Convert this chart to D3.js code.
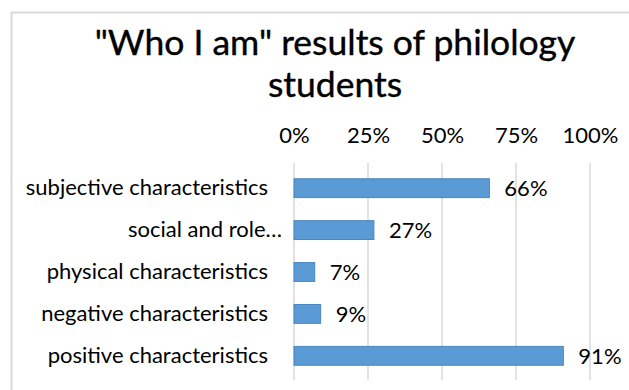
<!DOCTYPE html>
<html><head><meta charset="utf-8">
<script src="https://cdn.jsdelivr.net/npm/d3@7"></script>
<style>html,body{margin:0;padding:0;background:#fff;overflow:hidden}</style>
</head><body>
<svg id="c" width="629" height="390"></svg>
<script>
const categories = ["subjective characteristics","social and role…","physical characteristics","negative characteristics","positive characteristics"];
const values = [0.66,0.27,0.07,0.09,0.91];
const valueLabels = ["66%","27%","7%","9%","91%"];
const ticks = [0,0.25,0.5,0.75,1];
const titleLines = ["\"Who I am\" results of philology","students"];

const svg = d3.select("#c");
const font = "Lato, 'Open Sans', sans-serif";
svg.append("rect").attr("x",11.5).attr("y",12.5).attr("width",640).attr("height",400)
  .attr("fill","#fff").attr("stroke","#d9d9d9").attr("stroke-width",2);

svg.append("g").selectAll("text").data(titleLines).join("text")
  .attr("x",335).attr("y",(d,i)=>55+i*42).attr("text-anchor","middle")
  .attr("font-family",font).attr("font-size",35.5).attr("font-weight",400).attr("fill","#000")
  .attr("stroke","#000").attr("stroke-width",0.4)
  .text(d=>d);

const x = d3.scaleLinear().domain([0,1]).range([294,590]);
const y = d3.scaleBand().domain(categories).range([167,377]).paddingInner(0.55).paddingOuter(0.28);

const g = svg.append("g");
g.selectAll("line.grid").data(ticks).join("line")
  .attr("x1",d=>x(d)).attr("x2",d=>x(d)).attr("y1",163).attr("y2",380)
  .attr("stroke","#d9d9d9").attr("stroke-width",1.5);

const axis = d3.axisTop(x).tickValues(ticks).tickFormat(d3.format(".0%")).tickSize(0).tickPadding(0);
const ag = svg.append("g").attr("transform","translate(0,143)").call(axis);
ag.select(".domain").remove();
ag.selectAll("text").attr("font-family",font).attr("font-size",22).attr("fill","#000").attr("dy",0);

g.selectAll("rect.bar").data(values).join("rect")
  .attr("x",x(0)).attr("y",(d,i)=>y(categories[i]))
  .attr("width",d=>x(d)-x(0)).attr("height",y.bandwidth())
  .attr("fill","#5b9bd5").attr("stroke","#4a86c0").attr("stroke-width",1);

g.selectAll("text.val").data(values).join("text")
  .attr("x",d=>x(d)+15).attr("y",(d,i)=>y(categories[i])+y.bandwidth()/2)
  .attr("dy","0.35em").attr("font-family",font).attr("font-size",22).attr("fill","#000")
  .text((d,i)=>valueLabels[i]);

const ya = d3.axisLeft(y).tickSize(0).tickPadding(0);
const yg = svg.append("g").attr("transform","translate(268,0)").call(ya);
yg.select(".domain").remove();
yg.selectAll("text").attr("font-family",font).attr("font-size",22).attr("fill","#000")
  .attr("dx",d=>d.endsWith("…")?14:0);
</script>
</body></html>
